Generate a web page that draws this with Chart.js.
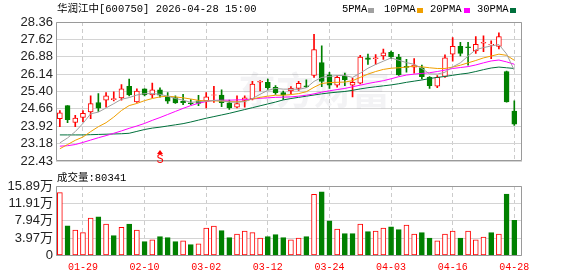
<!DOCTYPE html>
<html><head><meta charset="utf-8">
<script src="https://cdn.jsdelivr.net/npm/chart.js@4.4.1/dist/chart.umd.min.js"></script>
<style>
html,body{margin:0;padding:0;background:#fff;width:578px;height:276px;overflow:hidden;}
#wrap{position:relative;width:578px;height:276px;}
canvas{position:absolute;left:0;}
.t{position:absolute;font-family:"Liberation Mono","Noto Sans CJK SC",monospace;font-size:10.5px;color:#000;white-space:pre;line-height:12px;}
.sq{position:absolute;width:6px;height:5px;top:8px;}
</style></head><body>
<div id="wrap">
<canvas id="main" width="578" height="172" style="top:0"></canvas>
<canvas id="vol" width="578" height="104" style="top:172px"></canvas>
<div class="t" style="left:57px;top:3px">华润江中[600750] 2026-04-28 15:00</div>
<div class="t" style="left:342px;top:3px">5PMA</div><div class="sq" style="left:368px;background:#a0a0a0"></div>
<div class="t" style="left:384px;top:3px">10PMA</div><div class="sq" style="left:417px;background:#f0a000"></div>
<div class="t" style="left:430px;top:3px">20PMA</div><div class="sq" style="left:464px;background:#ff00ff"></div>
<div class="t" style="left:477px;top:3px">30PMA</div><div class="sq" style="left:510px;background:#00703c"></div>
<div class="t" style="left:57px;top:172px">成交量:80341</div>
</div>
<script>
const dates = ['01-26','01-27','01-28','01-29','01-30','02-02','02-03','02-04','02-05','02-06','02-09','02-10','02-11','02-12','02-13','02-24','02-25','02-26','02-27','03-02','03-03','03-04','03-05','03-06','03-09','03-10','03-11','03-12','03-13','03-16','03-17','03-18','03-19','03-20','03-23','03-24','03-25','03-26','03-27','03-30','03-31','04-01','04-02','04-03','04-07','04-08','04-09','04-10','04-13','04-14','04-15','04-16','04-17','04-20','04-21','04-22','04-23','04-24','04-27','04-28'];
const open  = [24.24,24.80,24.08,24.29,24.53,24.93,25.03,25.05,25.13,25.62,24.96,25.51,25.25,25.47,25.18,25.14,24.98,24.92,25.00,25.00,25.24,25.25,24.92,24.73,25.02,25.09,25.80,25.79,25.58,25.35,25.42,25.53,25.64,26.08,26.63,26.11,25.67,26.05,25.67,25.75,26.83,26.80,26.91,27.07,26.87,26.47,26.44,26.41,26.00,25.63,26.04,26.99,27.32,27.30,27.13,27.46,27.38,27.32,26.25,24.56];
const high  = [24.59,24.80,24.38,24.59,25.21,25.31,25.35,25.39,25.69,25.93,25.51,25.51,25.76,25.56,25.35,25.21,25.28,25.06,25.24,25.35,25.62,25.47,25.03,25.21,25.21,25.83,25.86,25.93,25.65,25.42,25.61,25.83,25.90,27.83,27.35,26.22,26.08,26.18,25.97,26.94,26.99,26.97,27.21,27.12,26.98,26.77,26.80,26.52,26.03,26.08,26.96,27.70,27.49,27.49,27.74,27.77,27.56,27.90,26.27,25.00];
const low   = [23.90,24.07,23.90,24.11,24.24,24.55,24.73,25.00,25.03,25.21,24.93,25.21,25.14,25.16,24.89,24.89,24.84,24.84,24.80,24.70,24.93,24.75,24.64,24.70,24.73,25.04,25.42,25.49,25.28,25.06,25.31,25.45,25.56,26.00,25.61,25.53,25.58,25.65,25.17,25.72,26.55,26.55,26.77,26.80,26.08,26.22,26.18,25.94,25.53,25.56,26.00,26.69,26.91,26.52,27.02,27.10,26.80,27.21,24.94,23.95];
const close = [24.49,24.20,24.27,24.47,24.88,24.69,25.21,25.10,25.51,25.25,25.42,25.25,25.47,25.24,24.99,24.91,24.92,24.88,24.89,25.17,25.26,24.92,24.70,24.88,25.13,25.72,25.83,25.56,25.35,25.25,25.53,25.75,25.60,27.18,25.83,25.67,26.00,25.90,25.79,26.87,26.77,26.83,27.05,26.87,26.11,26.43,26.52,26.03,25.65,26.00,26.83,27.32,27.02,27.27,27.41,27.49,27.41,27.74,24.96,24.01];
const ma5  = [23.21,23.42,23.69,24.04,24.45,24.52,24.70,24.88,25.07,25.14,25.25,25.31,25.31,25.28,25.20,25.10,25.03,24.94,24.96,24.99,25.02,25.00,24.95,24.94,24.97,25.10,25.28,25.45,25.53,25.50,25.50,25.49,25.56,25.83,26.00,26.04,26.08,26.08,26.00,26.18,26.39,26.55,26.69,26.83,26.73,26.63,26.56,26.38,26.15,26.14,26.22,26.45,26.62,26.91,27.18,27.27,27.34,27.40,27.00,26.30];
const ma10 = [22.96,23.14,23.32,23.46,23.69,23.90,24.07,24.31,24.59,24.80,24.89,25.01,25.10,25.17,25.20,25.17,25.13,25.08,25.02,25.00,25.00,24.99,24.97,24.96,24.98,25.08,25.15,25.20,25.24,25.24,25.27,25.31,25.39,25.58,25.74,25.78,25.79,25.80,25.86,26.00,26.14,26.25,26.34,26.39,26.41,26.44,26.48,26.45,26.41,26.38,26.38,26.44,26.52,26.62,26.72,26.83,26.91,26.99,26.94,26.73];
const ma20 = [23.07,23.09,23.14,23.23,23.33,23.43,23.52,23.62,23.72,23.83,23.93,24.04,24.17,24.29,24.42,24.55,24.68,24.80,24.90,24.97,25.02,25.03,25.03,25.04,25.05,25.08,25.11,25.13,25.15,25.16,25.17,25.20,25.24,25.30,25.37,25.43,25.48,25.53,25.60,25.67,25.74,25.80,25.86,25.94,26.03,26.10,26.14,26.17,26.20,26.25,26.31,26.38,26.42,26.46,26.53,26.62,26.70,26.74,26.66,26.56];
const ma30 = [23.55,23.55,23.55,23.55,23.56,23.57,23.58,23.59,23.60,23.62,23.70,23.78,23.84,23.88,23.93,23.98,24.03,24.10,24.18,24.26,24.33,24.40,24.47,24.55,24.63,24.71,24.79,24.87,24.95,25.04,25.10,25.15,25.20,25.25,25.30,25.34,25.37,25.40,25.45,25.51,25.56,25.60,25.64,25.68,25.73,25.79,25.84,25.89,25.95,26.00,26.04,26.09,26.14,26.18,26.25,26.33,26.40,26.44,26.41,26.38];
const volume = [14.37,6.81,5.83,5.22,8.55,8.85,7.19,4.54,6.43,7.19,5.83,3.18,3.56,4.31,4.09,3.18,3.33,2.50,2.65,6.28,6.73,5.68,4.09,4.92,5.60,5.22,4.01,4.31,4.77,4.09,3.56,4.01,4.31,14.00,14.53,7.95,6.05,4.99,4.99,7.19,5.45,5.60,6.28,6.58,5.90,6.96,4.92,5.22,4.01,3.33,4.92,5.60,4.01,5.60,3.56,4.24,5.22,4.92,14.07,8.03];
const priceTicks = [22.43,23.18,23.92,24.66,25.40,26.14,26.88,27.62,28.36];
const volTicks = [0,3.97,7.94,11.91,15.89];
const volTickLabels = ['0','3.97万','7.94万','11.91万','15.89万'];
const dateTickIdx = [3,11,19,27,35,43,51,59];
const signals = [[13,'S']];

const RED = '#ff0000', GREEN = '#008000';
const up = close.map((c,i)=>c>=open[i]);
const volUp = close.map((c,i)=> i===0 ? c>=open[0] : c>=close[i-1]);
const axisFont = {family:'"Liberation Sans","Noto Sans CJK SC",sans-serif', size:13};

const frame = {
  id:'frame',
  beforeDatasetsDraw(chart){
    if(chart.canvas.id!=='main') return;
    const ctx=chart.ctx;
    ctx.save();
    ctx.font='bold 38px "Noto Sans CJK SC"';
    ctx.fillStyle='rgba(120,120,140,0.09)';
    ctx.textBaseline='middle';
    ctx.fillText('东方财富', 238, 90);
    ctx.restore();
  },
  afterDraw(chart){
    const ctx=chart.ctx, a=chart.chartArea;
    ctx.save();
    ctx.strokeStyle='#9a9a9a';ctx.lineWidth=1;
    const l=Math.round(a.left)+0.5, t=Math.round(a.top)+0.5, r=Math.round(a.right)-0.5, b=Math.round(a.bottom)-0.5;
    ctx.beginPath();
    ctx.moveTo(l,t);ctx.lineTo(r,t);ctx.lineTo(r,b);ctx.lineTo(l,b);ctx.closePath();
    ctx.stroke();
    if(chart.canvas.id==='main'){
      const xs=chart.scales.x;
      signals.forEach(([i,s])=>{
        const x=xs.getPixelForValue(i);
        ctx.fillStyle=RED;
        ctx.beginPath();ctx.moveTo(x,150);ctx.lineTo(x-3,154);ctx.lineTo(x+3,154);ctx.closePath();ctx.fill();
        ctx.font='12px "Liberation Mono"';ctx.textAlign='center';ctx.textBaseline='middle';
        ctx.fillText(s,x,159.5);
      });
    }
    ctx.restore();
  }
};
Chart.register(frame);

function xAxis(showLabels){
  return {
    type:'linear', min:-0.5, max:60, offset:false,
    afterBuildTicks:s=>{s.ticks=dateTickIdx.map(v=>({value:v}));},
    afterFit:s=>{s.height = showLabels?20.5:0;},
    ticks:{display:showLabels, color:RED, padding:6, maxRotation:0, autoSkip:false,
      font:{family:'"Liberation Mono",monospace', size:10}, callback:v=>dates[v]},
    grid:{color:'#cccccc', drawTicks:false, offset:false},
    border:{display:false, dash:[4,3]}
  };
}
function line(data,color){
  return {type:'line', data:data.map((v,i)=>({x:i,y:v})), borderColor:color, borderWidth:1, pointRadius:0, tension:0, order:-1};
}

new Chart(document.getElementById('main'),{
  type:'bar',
  data:{datasets:[
    line(ma5,'#a0a0a0'), line(ma10,'#f0a000'), line(ma20,'#ff00ff'), line(ma30,'#00703c'),
    {data:open.map((o,i)=>({x:i,y:[o,close[i]]})), backgroundColor:up.map(u=>u?'#ffffff':GREEN),
     borderColor:up.map(u=>u?RED:GREEN), borderWidth:1, borderSkipped:false, barThickness:5, grouped:false, order:1},
    {data:low.map((l,i)=>({x:i,y:[l,high[i]]})), backgroundColor:up.map(u=>u?RED:GREEN),
     borderWidth:0, barThickness:1, grouped:false, order:2}
  ]},
  options:{
    responsive:false, animation:false, devicePixelRatio:1,
    layout:{padding:{top:22,right:56,bottom:7,left:0}},
    plugins:{legend:{display:false}, tooltip:{enabled:false}},
    scales:{
      x:xAxis(false),
      y:{min:22.43,max:28.36,
        afterBuildTicks:s=>{s.ticks=priceTicks.map(v=>({value:v}));},
        afterFit:s=>{s.width=56;},
        ticks:{color:'#222', padding:3, font:axisFont, autoSkip:false, callback:(v)=>v.toFixed(2)},
        grid:{color:'#d4d4d4', drawTicks:false}, border:{display:false}}
    }
  }
});

new Chart(document.getElementById('vol'),{
  type:'bar',
  data:{datasets:[
    {data:volume.map((v,i)=>({x:i,y:v})), backgroundColor:volUp.map(u=>u?'#ffffff':GREEN),
     borderColor:volUp.map(u=>u?RED:GREEN), borderWidth:1, borderSkipped:false, barThickness:5}
  ]},
  options:{
    responsive:false, animation:false, devicePixelRatio:1,
    layout:{padding:{top:14,right:56,bottom:0,left:0}},
    plugins:{legend:{display:false}, tooltip:{enabled:false}},
    scales:{
      x:xAxis(true),
      y:{min:0,max:15.89,
        afterBuildTicks:s=>{s.ticks=volTicks.map(v=>({value:v}));},
        afterFit:s=>{s.width=56;},
        ticks:{color:'#222', padding:3, font:axisFont, autoSkip:false, callback:(v,i)=>volTickLabels[i]},
        grid:{color:'#d4d4d4', drawTicks:false}, border:{display:false}}
    }
  }
});
</script>
</body></html>
